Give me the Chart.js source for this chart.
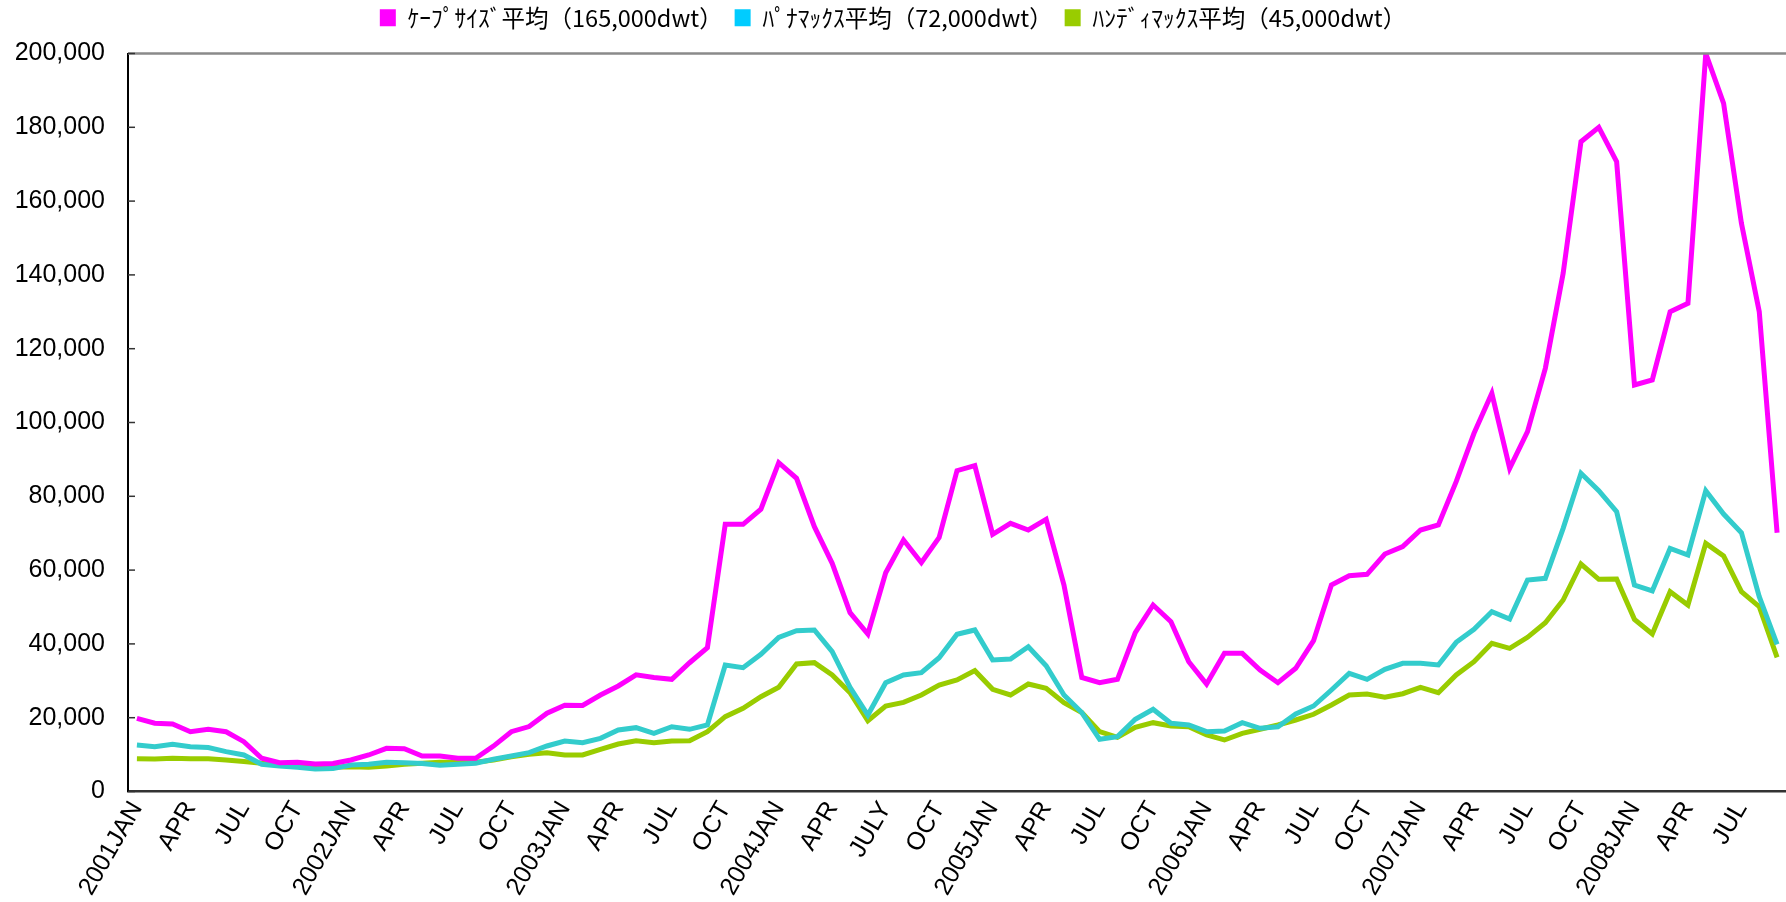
<!DOCTYPE html>
<html>
<head>
<meta charset="utf-8">
<script src="https://cdn.jsdelivr.net/npm/chart.js@4"></script>
<style>
  html, body { margin: 0; padding: 0; background: #fff; }
  #wrap { width: 1786px; height: 902px; position: relative; }
</style>
</head>
<body>
<div id="wrap"><canvas id="rateChart"></canvas></div>
<script>
// monthly, 2001 JAN .. 2008 SEP
const years = [2001, 2002, 2003, 2004, 2005, 2006, 2007, 2008];
const monthNames = ['JAN', 'FEB', 'MAR', 'APR', 'MAY', 'JUN', 'JUL', 'AUG', 'SEP', 'OCT', 'NOV', 'DEC'];
const monthCount = 93;

// one label every 3 months
const tickLabels = ['2001JAN', 'APR', 'JUL', 'OCT', '2002JAN', 'APR', 'JUL', 'OCT',
    '2003JAN', 'APR', 'JUL', 'OCT', '2004JAN', 'APR', 'JULY', 'OCT',
    '2005JAN', 'APR', 'JUL', 'OCT', '2006JAN', 'APR', 'JUL', 'OCT',
    '2007JAN', 'APR', 'JUL', 'OCT', '2008JAN', 'APR', 'JUL'];

const seriesNames = ['ｹｰﾌﾟｻｲｽﾞ平均（165,000dwt）', 'ﾊﾟﾅﾏｯｸｽ平均（72,000dwt）', 'ﾊﾝﾃﾞｨﾏｯｸｽ平均（45,000dwt）'];
const lineColors = ['#ff00ff', '#33cccc', '#99cc00'];
const legendColors = ['#ff00ff', '#00ccff', '#99cc00'];

const capesize = [19800, 18500, 18300, 16200, 16850, 16200, 13500, 9000, 7800, 7950, 7450, 7600,
    8540, 9900, 11700, 11600, 9600, 9600, 9000, 9000, 12300, 16200, 17600, 21200,
    23400, 23300, 26150, 28600, 31600, 30900, 30400, 34900, 39000, 72400, 72400, 76500,
    89100, 84870, 71770, 61830, 48460, 42680, 59300, 68160, 62010, 68880, 86950, 88300,
    69690, 72680, 70870, 73760, 55960, 30900, 29490, 30400, 43040, 50540, 46020, 35180,
    29130, 37450, 37450, 32930, 29490, 33390, 40870, 55960, 58490, 58850, 64360, 66350,
    70870, 72220, 83960, 97070, 107900, 87580, 97510, 114680, 140430, 176100, 180000, 170680,
    110160, 111520, 130030, 132300, 200000, 186500, 153980, 130030, 70140];

const panamax = [12600, 12150, 12800, 12150, 11900, 10800, 9900, 7370, 6900, 6550, 6100, 6200,
    7200, 7370, 7900, 7800, 7600, 7100, 7360, 7640, 8720, 9620, 10520, 12330,
    13690, 13230, 14400, 16670, 17300, 15770, 17560, 16850, 18020, 34280, 33550, 37200,
    41780, 43580, 43770, 37890, 28230, 20730, 29490, 31570, 32200, 36270, 42590, 43770,
    35640, 35910, 39250, 34100, 26150, 21400, 14140, 14860, 19560, 22270, 18480, 18020,
    16210, 16400, 18650, 17120, 17560, 21000, 23170, 27510, 32030, 30400, 33110, 34740,
    34740, 34280, 40420, 43950, 48730, 46750, 57320, 57770, 71320, 86230, 81530, 75830,
    55960, 54340, 65900, 64090, 81530, 75200, 70140, 52800, 39890];

const handymax = [8900, 8800, 9000, 8900, 8850, 8540, 8100, 7650, 7200, 6900, 6700, 6600,
    6700, 6550, 6900, 7370, 7650, 7900, 7900, 7900, 8540, 9400, 10080, 10520,
    9890, 9890, 11430, 12870, 13770, 13230, 13690, 13770, 16210, 20270, 22540, 25700,
    28230, 34550, 34910, 31570, 26780, 19190, 23170, 24160, 26150, 28860, 30220, 32750,
    27690, 26150, 29130, 27960, 24070, 21400, 16210, 14680, 17390, 18650, 17750, 17560,
    15310, 13960, 15770, 16860, 18020, 19380, 20920, 23440, 26150, 26420, 25530, 26500,
    28230, 26780, 31570, 35180, 40160, 38810, 41780, 45750, 51900, 61650, 57500, 57580,
    46660, 42680, 54150, 50540, 67250, 63820, 54150, 50080, 36370];

const months = years.flatMap(y => monthNames.map(m => y + m)).slice(0, monthCount);

// frame bits Chart.js does not draw itself: grey top edge, inward y tick marks
const framePlugin = {
    id: 'frame',
    afterLayout(chart) {
        // pull the legend up closer to the canvas top
        chart.legend.top -= 14;
        chart.legend.bottom -= 14;
    },
    afterDraw(chart) {
        const { ctx, chartArea } = chart;
        const yScale = chart.scales.y;
        ctx.save();
        ctx.strokeStyle = '#8a8a8a';
        ctx.lineWidth = 2.5;
        ctx.beginPath();
        ctx.moveTo(chartArea.left, chartArea.top);
        ctx.lineTo(chartArea.right, chartArea.top);
        ctx.stroke();
        ctx.strokeStyle = '#333';
        ctx.lineWidth = 1.5;
        yScale.ticks.forEach(t => {
            const y = yScale.getPixelForValue(t.value);
            ctx.beginPath();
            ctx.moveTo(chartArea.left, y);
            ctx.lineTo(chartArea.left + 7, y);
            ctx.stroke();
        });
        ctx.restore();
    }
};

const ctx = document.getElementById('rateChart').getContext('2d');
const rateChart = new Chart(ctx, {
    type: 'line',
    data: {
        labels: months,
        datasets: [capesize, panamax, handymax].map((d, i) => ({
            label: seriesNames[i],
            data: d,
            borderColor: lineColors[i],
            backgroundColor: legendColors[i],
            borderWidth: 5,
            pointRadius: 0,
            tension: 0,
            fill: false
        }))
    },
    options: {
        responsive: true,
        maintainAspectRatio: false,
        animation: false,
        layout: { padding: { top: 8, left: 0, right: 0, bottom: 0 } },
        scales: {
            x: {
                offset: true,
                grid: { display: false, drawTicks: false },
                border: { display: true, color: '#333', width: 2.5 },
                ticks: {
                    autoSkip: false,
                    minRotation: 60,
                    maxRotation: 60,
                    padding: 5,
                    color: '#000',
                    font: { family: 'Liberation Sans', size: 25 },
                    callback: (v, i) => (i % 3 === 0 ? tickLabels[i / 3] : '')
                },
                afterFit: s => {
                    s.height = 110.5;
                    s.paddingLeft = 0;
                    s.paddingRight = 0;
                }
            },
            y: {
                min: 0,
                max: 200000,
                grid: { display: false, drawTicks: false },
                border: { display: true, color: '#000', width: 2 },
                ticks: {
                    stepSize: 20000,
                    padding: 23,
                    color: '#000',
                    font: { family: 'Liberation Sans', size: 25 },
                    callback: v => v.toLocaleString('en-US')
                },
                afterFit: s => { s.width = 128; }
            }
        },
        plugins: {
            legend: {
                position: 'top',
                labels: {
                    boxWidth: 16,
                    boxHeight: 17,
                    padding: 12,
                    color: '#000',
                    font: { family: 'Noto Sans CJK JP', size: 23.5 },
                    generateLabels: chart => chart.data.datasets.map((ds, i) => ({
                        text: ds.label,
                        fillStyle: legendColors[i],
                        strokeStyle: legendColors[i],
                        lineWidth: 0,
                        datasetIndex: i,
                        hidden: false
                    }))
                }
            },
            tooltip: { enabled: false }
        }
    },
    plugins: [framePlugin]
});
</script>
</body>
</html>
